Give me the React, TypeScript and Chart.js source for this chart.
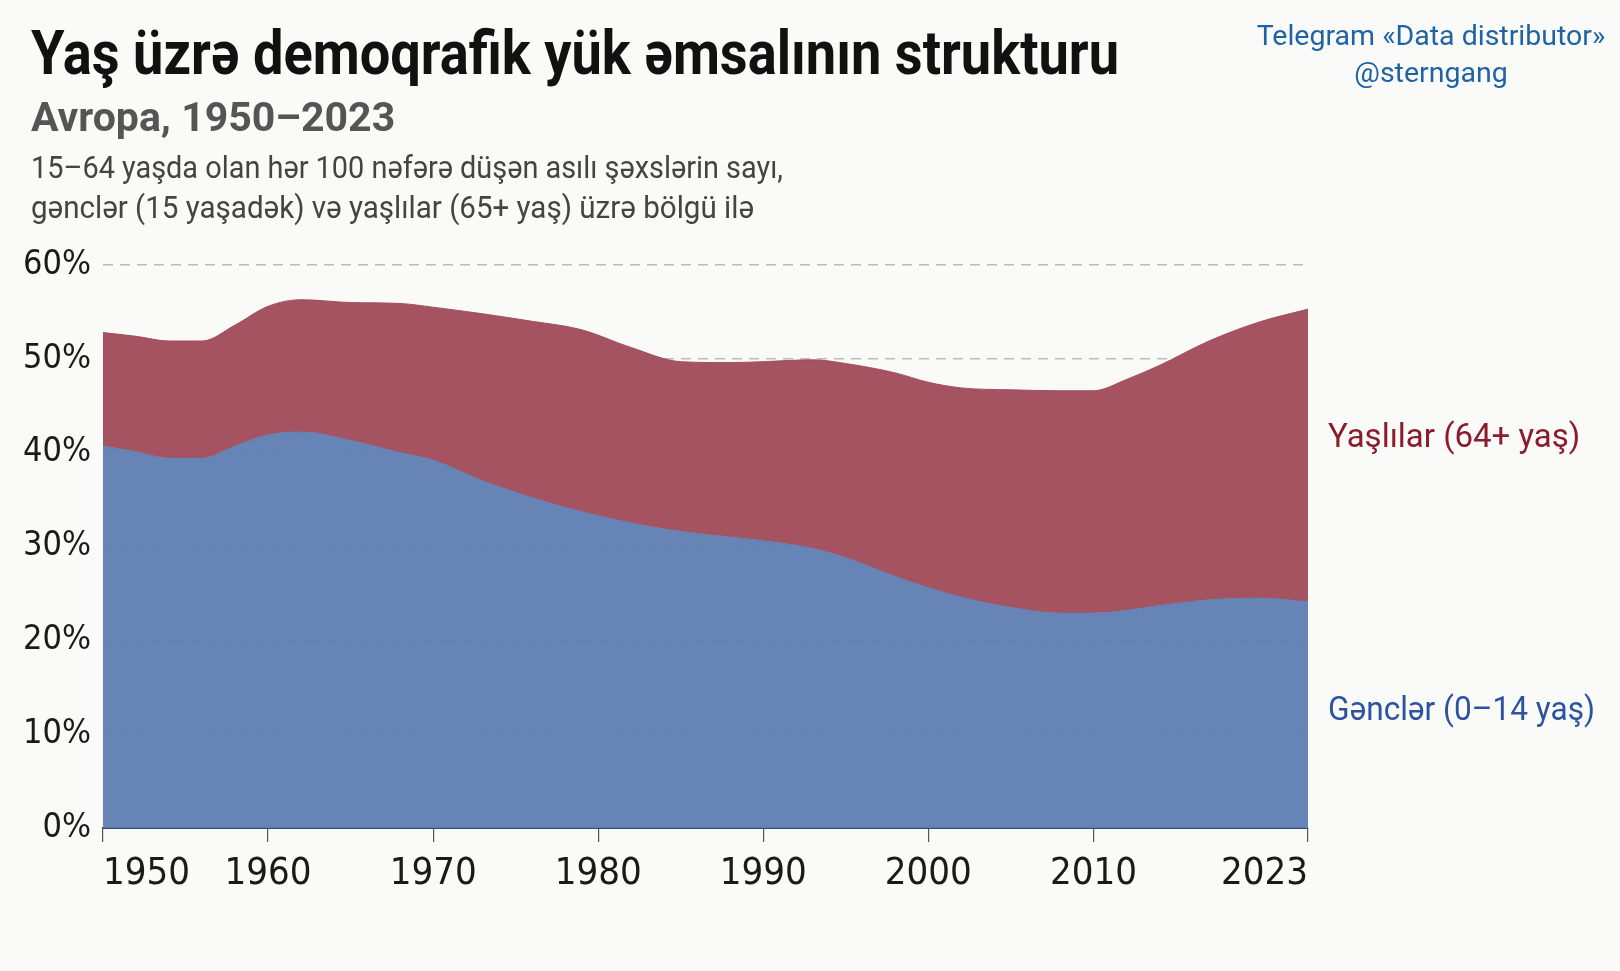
import React, { useEffect, useRef } from "react";
import { Chart, registerables } from "chart.js";

Chart.register(...registerables);

// ---- data ----
const years = [1950, 1952, 1954, 1956, 1958, 1960, 1962, 1965, 1968, 1970, 1973, 1976, 1979, 1982, 1985, 1988, 1990, 1993, 1995, 1998, 2000, 2002, 2005, 2008, 2010, 2012, 2014, 2017, 2020, 2023];
const youngShare = [40.7, 40.1, 39.4, 39.4, 40.7, 41.9, 42.2, 41.3, 40.0, 39.2, 37.0, 35.2, 33.7, 32.5, 31.6, 31.0, 30.6, 29.8, 28.8, 26.8, 25.6, 24.6, 23.5, 22.9, 22.9, 23.2, 23.7, 24.3, 24.5, 24.1];
const oldShare = [12.1, 12.3, 12.5, 12.5, 12.9, 13.7, 14.1, 14.7, 15.9, 16.3, 17.8, 18.8, 19.4, 18.7, 18.1, 18.6, 19.1, 20.1, 20.7, 21.7, 21.9, 22.3, 23.2, 23.7, 23.7, 24.6, 25.6, 27.6, 29.4, 31.2];
const xTickYears = [1950, 1960, 1970, 1980, 1990, 2000, 2010, 2023];
const yTickValues = [0, 10, 20, 30, 40, 50, 60];

const titleText = "Yaş üzrə demoqrafik yük əmsalının strukturu";
const subtitleText = "Avropa, 1950–2023";
const descLines = [
  "15–64 yaşda olan hər 100 nəfərə düşən asılı şəxslərin sayı,",
  "gənclər (15 yaşadək) və yaşlılar (65+ yaş) üzrə bölgü ilə",
];
const watermarkLines = ["Telegram «Data distributor»", "@sterngang"];
const oldLabel = "Yaşlılar (64+ yaş)";
const youngLabel = "Gənclər (0–14 yaş)";

const W = 1620;
const H = 971;
const NARROW = "'DejaVu Sans Condensed', 'Roboto', sans-serif";
const SANS = "Roboto, 'Liberation Sans', sans-serif";

export default function App() {
  const ref = useRef<HTMLCanvasElement | null>(null);

  useEffect(() => {
    document.body.style.margin = "0";
    document.body.style.background = "#fafaf9";
    const canvas = ref.current;
    if (!canvas) return;
    const chart = new Chart(canvas, {
      type: "line",
      data: {
        datasets: [
          {
            label: youngLabel,
            data: years.map((y, i) => ({ x: y, y: youngShare[i] })),
            backgroundColor: "rgba(96,127,178,0.96)",
            borderColor: "rgba(96,127,178,0.96)",
            borderWidth: 1,
            fill: "origin",
            pointRadius: 0,
            cubicInterpolationMode: "monotone",
          },
          {
            label: oldLabel,
            data: years.map((y, i) => ({ x: y, y: oldShare[i] })),
            backgroundColor: "rgba(161,76,89,0.96)",
            borderColor: "rgba(161,76,89,0.96)",
            borderWidth: 1,
            fill: "-1",
            pointRadius: 0,
            cubicInterpolationMode: "monotone",
          },
        ],
      },
      options: {
        responsive: false,
        animation: false,
        devicePixelRatio: 1,
        layout: { padding: { top: 265, right: 312, bottom: 0, left: 0 } },
        plugins: {
          legend: { display: false },
          tooltip: { enabled: false },
          title: { display: false },
        },
        scales: {
          x: {
            type: "linear",
            min: 1950,
            max: 2023,
            afterBuildTicks: (s: any) => {
              s.ticks = xTickYears.map((v) => ({ value: v }));
            },
            afterFit: (s: any) => {
              s.height = 143;
            },
            ticks: {
              autoSkip: false,
              maxRotation: 0,
              align: "inner",
              padding: 9,
              color: "#1a1a1a",
              font: { family: NARROW, size: 38 },
              callback: (v: any) => String(v),
            },
            grid: {
              drawOnChartArea: false,
              drawTicks: true,
              tickLength: 14,
              color: "#555",
              lineWidth: 1.2,
            },
            border: { display: true, color: "#3b4a66", width: 2 },
          },
          y: {
            stacked: true,
            min: 0,
            max: 60,
            afterBuildTicks: (s: any) => {
              s.ticks = yTickValues.map((v) => ({ value: v }));
            },
            afterFit: (s: any) => {
              s.width = 103;
            },
            ticks: {
              padding: 12,
              color: "#1a1a1a",
              font: { family: NARROW, size: 34 },
              callback: (v: any) => `${v}%`,
            },
            grid: {
              drawTicks: false,
              color: (ctx: any) => (ctx.tick && ctx.tick.value === 0 ? "rgba(0,0,0,0)" : "#bcbcbc"),
              lineWidth: 1.5,
            },
            border: { display: false, dash: [10, 7] },
          },
        },
      },
    });
    return () => chart.destroy();
  }, []);

  return (
    <div style={{ position: "fixed", left: 0, top: 0, width: W, height: H, background: "#fafaf9" }}>
      <canvas ref={ref} width={W} height={H} style={{ position: "absolute", left: 0, top: 0, width: W, height: H }} />
      <svg
        width={W}
        height={H}
        style={{ position: "absolute", left: 0, top: 0, pointerEvents: "none" }}
      >
        <text x={31} y={74} fontFamily={SANS} fontWeight={700} fontSize={62} fill="#111"
          textLength={1088} lengthAdjust="spacingAndGlyphs">
          {titleText}
        </text>
        <text x={31} y={131} fontFamily={SANS} fontWeight={700} fontSize={41} fill="#555">
          {subtitleText}
        </text>
        <text x={31} y={178} fontFamily={SANS} fontSize={32} fill="#444"
          textLength={752} lengthAdjust="spacingAndGlyphs">
          {descLines[0]}
        </text>
        <text x={31} y={218} fontFamily={SANS} fontSize={32} fill="#444"
          textLength={723} lengthAdjust="spacingAndGlyphs">
          {descLines[1]}
        </text>
        <text x={1431} y={45} textAnchor="middle" fontFamily={SANS} fontSize={28.5} fill="#1f63a4">
          {watermarkLines[0]}
        </text>
        <text x={1431} y={82} textAnchor="middle" fontFamily={SANS} fontSize={28.5} fill="#1f63a4">
          {watermarkLines[1]}
        </text>
        <text x={1328} y={447} fontFamily={SANS} fontSize={33} fill="#8c1c2c">
          {oldLabel}
        </text>
        <text x={1328} y={720} fontFamily={SANS} fontSize={33} fill="#2d52a0"
          textLength={267} lengthAdjust="spacingAndGlyphs">
          {youngLabel}
        </text>
      </svg>
    </div>
  );
}
